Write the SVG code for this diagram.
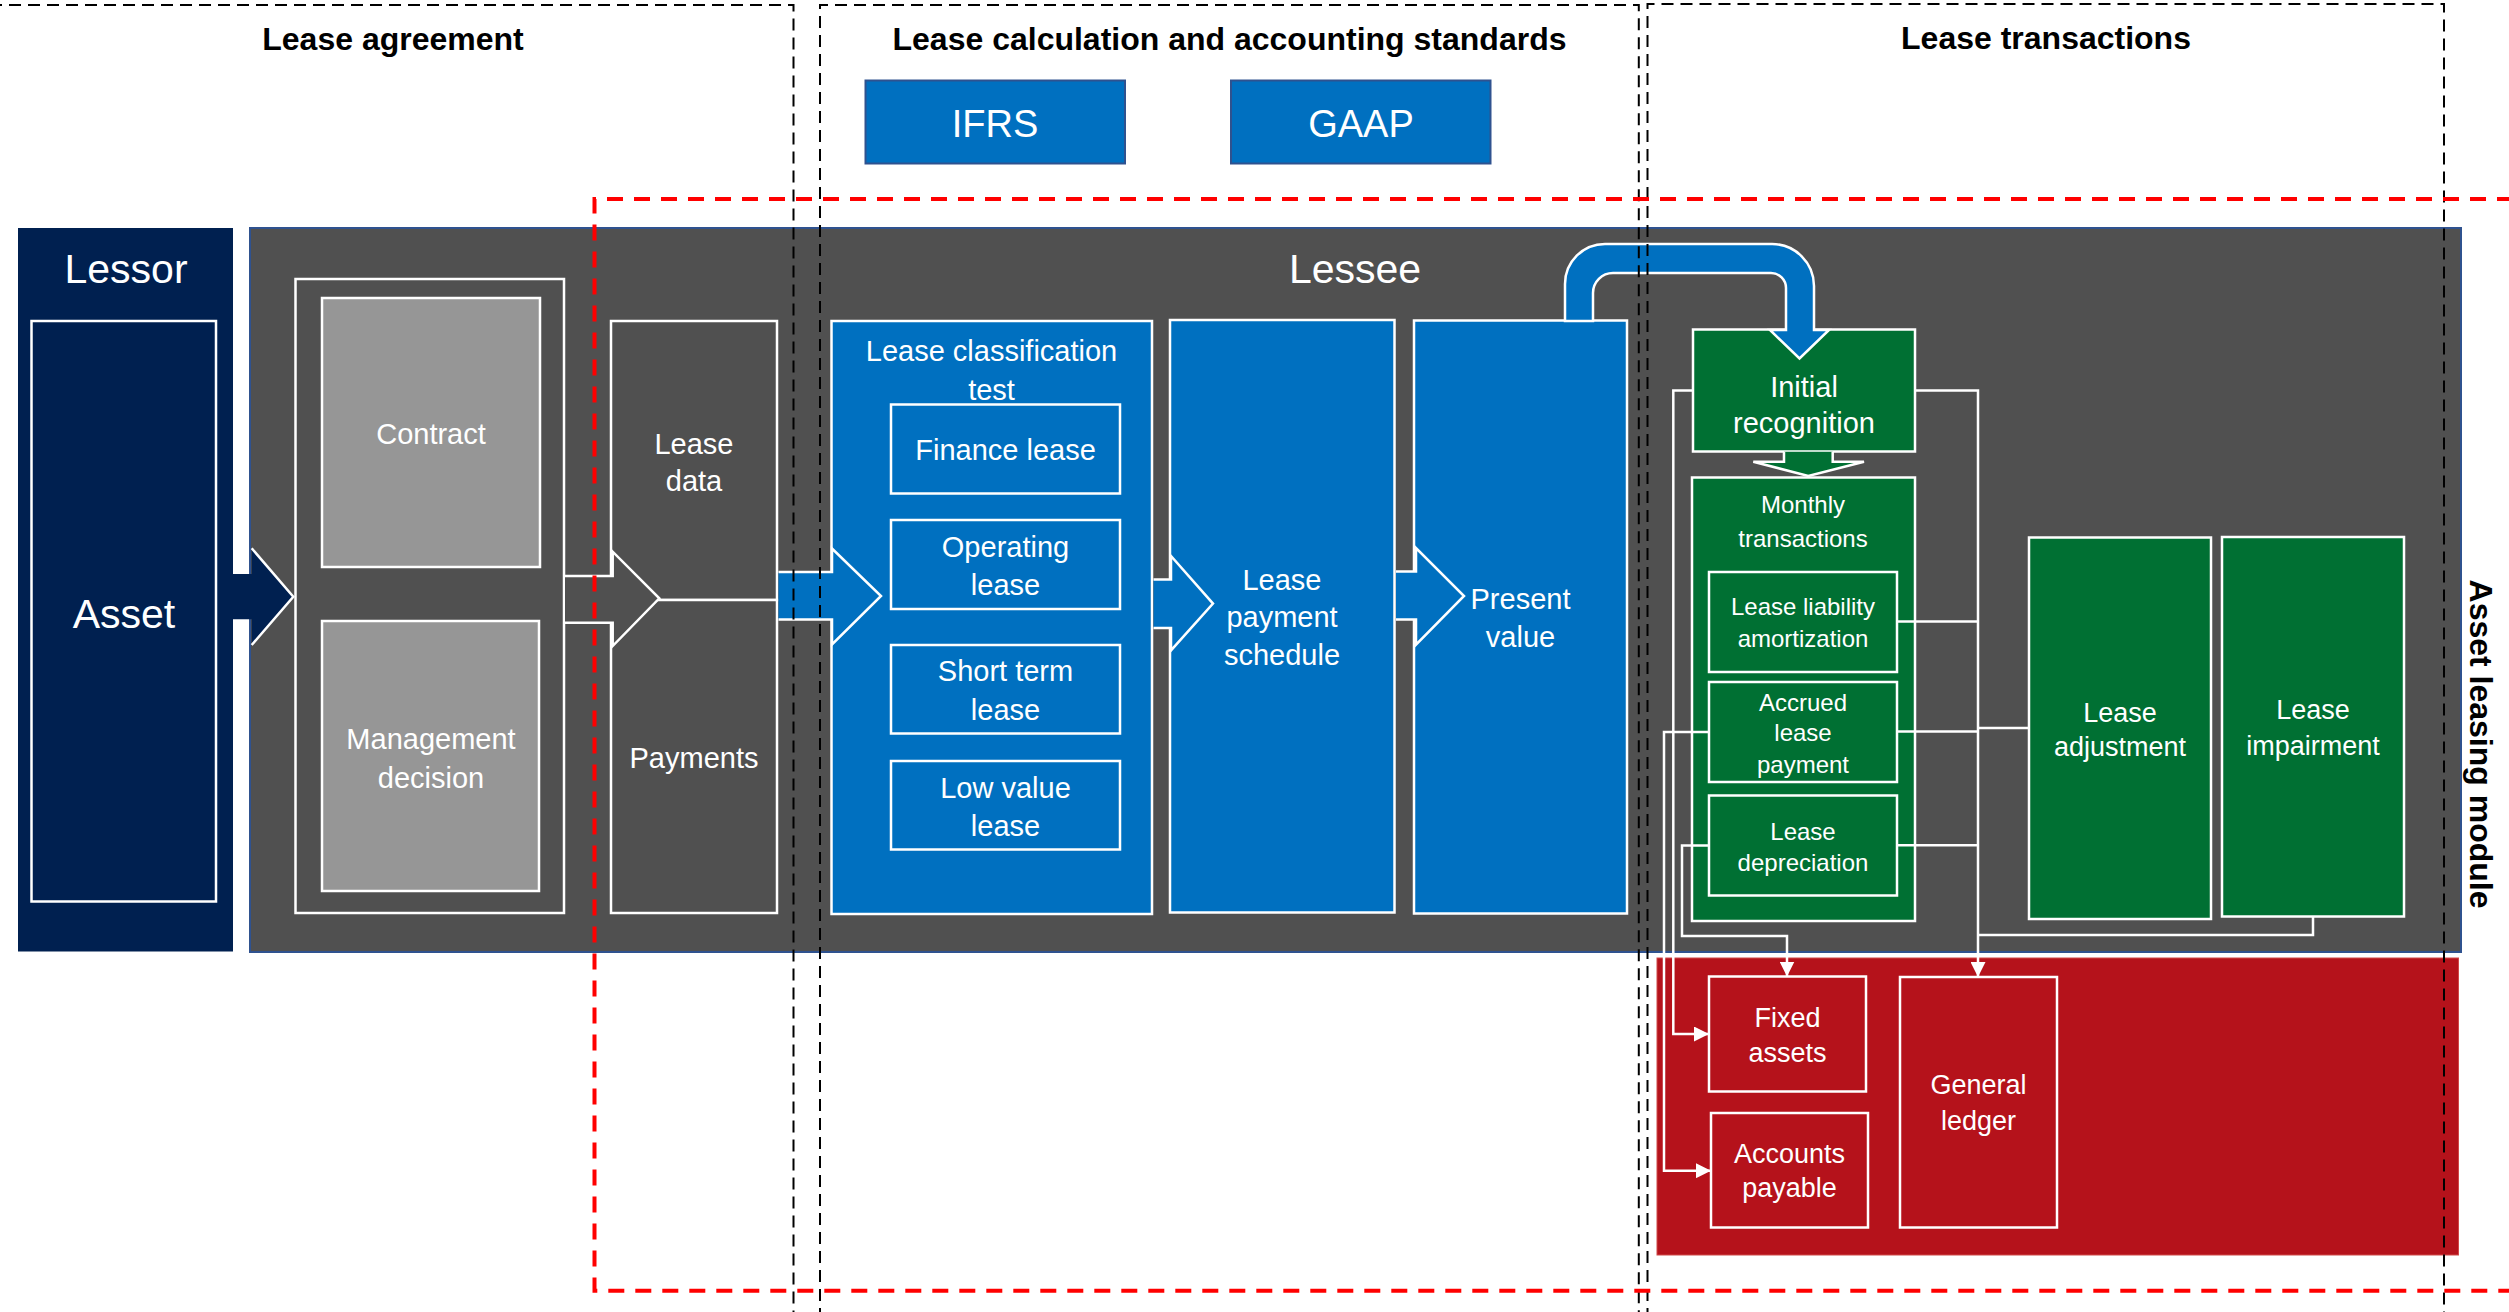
<svg xmlns="http://www.w3.org/2000/svg" width="2509" height="1312" viewBox="0 0 2509 1312">
  <defs>
    <style>
      .t { font-family: "Liberation Sans", Arial, sans-serif; fill: #ffffff; text-anchor: middle; }
      .h { font-family: "Liberation Sans", Arial, sans-serif; font-weight: bold; font-size: 32px; fill: #000000; text-anchor: middle; }
      .big { font-size: 41px; }
      .b29 { font-size: 29px; }
      .b27 { font-size: 27px; }
      .b24 { font-size: 24px; }
      .wb { stroke: #ffffff; stroke-width: 2.5; }
      .blue { fill: #0070C0; }
      .green { fill: #007033; }
      .gray { fill: #505050; }
      .lgray { fill: #969696; }
      .red { fill: #B5121B; }
      .navy { fill: #002050; }
      .conn { fill: none; stroke: #ffffff; stroke-width: 2.5; }
      .edge { fill: none; stroke: #ffffff; stroke-width: 2.5; stroke-linejoin: miter; }
      .dashk { fill: none; stroke: #000000; stroke-width: 2; stroke-dasharray: 12 7; }
      .dashr { fill: none; stroke: #FF0000; stroke-width: 4; stroke-dasharray: 16 11; }
    </style>
    <marker id="ah" viewBox="0 0 10 10" refX="10" refY="5" markerUnits="userSpaceOnUse" markerWidth="15" markerHeight="15" orient="auto">
      <path d="M0,0 L10,5 L0,10 z" fill="#ffffff"/>
    </marker>
  </defs>

  <rect x="0" y="0" width="2509" height="1312" fill="#ffffff"/>

  <!-- Section headings -->
  <g id="heading-lease-agreement"><text class="h" x="393" y="50">Lease agreement</text></g>
  <g id="heading-lease-calculation"><text class="h" x="1229.5" y="50">Lease calculation and accounting standards</text></g>
  <g id="heading-lease-transactions"><text class="h" x="2046" y="49">Lease transactions</text></g>

  <!-- Standards -->
  <g id="ifrs">
    <rect x="865.5" y="80.5" width="259.5" height="83" class="blue" stroke="#2F528F" stroke-width="2"/>
    <text class="t" x="995" y="137" font-size="38">IFRS</text>
  </g>
  <g id="gaap">
    <rect x="1231" y="80.5" width="259.5" height="83" class="blue" stroke="#2F528F" stroke-width="2"/>
    <text class="t" x="1361" y="137" font-size="38">GAAP</text>
  </g>

  <!-- Lessor -->
  <g id="lessor">
    <rect x="18" y="228" width="215" height="723.5" class="navy"/>
    <text class="t big" x="126" y="283">Lessor</text>
  </g>
  <g id="asset">
    <rect x="31.5" y="321" width="184.5" height="580.5" class="navy wb"/>
    <text class="t big" x="124" y="628">Asset</text>
  </g>

  <!-- Lessee container -->
  <g id="lessee">
    <rect x="250" y="228" width="2211" height="724" class="gray" stroke="#2F528F" stroke-width="2"/>
    <text class="t big" x="1355" y="283">Lessee</text>
  </g>

  <!-- External systems container -->
  <g id="external-systems">
    <rect x="1657" y="958" width="801.5" height="297" class="red" stroke="#D04848" stroke-width="1"/>
  </g>

  <!-- Lease agreement inputs -->
  <g id="agreement-group">
    <rect x="295.5" y="279" width="268.5" height="634" fill="none" class="wb"/>
  </g>
  <g id="contract">
    <rect x="322" y="298" width="218" height="269" class="lgray wb"/>
    <text class="t b29" x="431" y="444">Contract</text>
  </g>
  <g id="management-decision">
    <rect x="322" y="621" width="217" height="270" class="lgray wb"/>
    <text class="t b29" x="431" y="748.5">Management</text>
    <text class="t b29" x="431" y="788">decision</text>
  </g>
  <g id="lease-data">
    <rect x="611" y="321" width="166" height="279" class="gray wb"/>
    <text class="t b29" x="694" y="453.6">Lease</text>
    <text class="t b29" x="694" y="491">data</text>
  </g>
  <g id="payments">
    <rect x="611" y="600" width="166" height="313" class="gray wb"/>
    <text class="t b29" x="694" y="768">Payments</text>
  </g>

  <!-- Lease calculation -->
  <g id="lease-classification-test">
    <rect x="831.5" y="321" width="320.5" height="593" class="blue wb"/>
    <text class="t b29" x="991.5" y="361">Lease classification</text>
    <text class="t b29" x="991.5" y="399.5">test</text>
  </g>
  <g id="finance-lease">
    <rect x="891" y="404.5" width="229" height="89" class="blue wb"/>
    <text class="t b29" x="1005.5" y="460">Finance lease</text>
  </g>
  <g id="operating-lease">
    <rect x="891" y="520" width="229" height="89" class="blue wb"/>
    <text class="t b29" x="1005.5" y="557">Operating</text>
    <text class="t b29" x="1005.5" y="595">lease</text>
  </g>
  <g id="short-term-lease">
    <rect x="891" y="645" width="229" height="88.5" class="blue wb"/>
    <text class="t b29" x="1005.5" y="681">Short term</text>
    <text class="t b29" x="1005.5" y="720">lease</text>
  </g>
  <g id="low-value-lease">
    <rect x="891" y="761" width="229" height="88.5" class="blue wb"/>
    <text class="t b29" x="1005.5" y="798">Low value</text>
    <text class="t b29" x="1005.5" y="836">lease</text>
  </g>
  <g id="lease-payment-schedule">
    <rect x="1170" y="320" width="224.5" height="592.5" class="blue wb"/>
    <text class="t b29" x="1282" y="590">Lease</text>
    <text class="t b29" x="1282" y="627">payment</text>
    <text class="t b29" x="1282" y="665">schedule</text>
  </g>
  <g id="present-value">
    <rect x="1414" y="320.5" width="213" height="593" class="blue wb"/>
    <text class="t b29" x="1520.5" y="609">Present</text>
    <text class="t b29" x="1520.5" y="647">value</text>
  </g>

  <!-- Lease transactions -->
  <g id="initial-recognition">
    <rect x="1693" y="329.5" width="222" height="122" class="green wb"/>
    <text class="t b29" x="1804" y="397">Initial</text>
    <text class="t b29" x="1804" y="433">recognition</text>
  </g>
  <g id="monthly-transactions">
    <rect x="1692" y="477.5" width="223" height="443.5" class="green wb"/>
    <text class="t b24" x="1803" y="513">Monthly</text>
    <text class="t b24" x="1803" y="547">transactions</text>
  </g>
  <g id="lease-liability-amortization">
    <rect x="1709" y="572" width="188" height="100" class="green wb"/>
    <text class="t b24" x="1803" y="615">Lease liability</text>
    <text class="t b24" x="1803" y="646.6">amortization</text>
  </g>
  <g id="accrued-lease-payment">
    <rect x="1709" y="682" width="188" height="100" class="green wb"/>
    <text class="t b24" x="1803" y="710.5">Accrued</text>
    <text class="t b24" x="1803" y="741">lease</text>
    <text class="t b24" x="1803" y="772.6">payment</text>
  </g>
  <g id="lease-depreciation">
    <rect x="1709" y="795.5" width="188" height="100" class="green wb"/>
    <text class="t b24" x="1803" y="839.5">Lease</text>
    <text class="t b24" x="1803" y="870.5">depreciation</text>
  </g>
  <g id="lease-adjustment">
    <rect x="2029" y="537.5" width="182" height="381.5" class="green wb"/>
    <text class="t b27" x="2120" y="721.7">Lease</text>
    <text class="t b27" x="2120" y="755.6">adjustment</text>
  </g>
  <g id="lease-impairment">
    <rect x="2222" y="537" width="182" height="379.5" class="green wb"/>
    <text class="t b27" x="2313" y="719">Lease</text>
    <text class="t b27" x="2313" y="754.7">impairment</text>
  </g>

  <!-- External systems -->
  <g id="fixed-assets">
    <rect x="1709" y="976.5" width="157" height="115" class="red wb"/>
    <text class="t b27" x="1787.5" y="1026.7">Fixed</text>
    <text class="t b27" x="1787.5" y="1061.7">assets</text>
  </g>
  <g id="accounts-payable">
    <rect x="1711" y="1113" width="157" height="114.5" class="red wb"/>
    <text class="t b27" x="1789.5" y="1163">Accounts</text>
    <text class="t b27" x="1789.5" y="1196.7">payable</text>
  </g>
  <g id="general-ledger">
    <rect x="1900" y="977" width="157" height="250.5" class="red wb"/>
    <text class="t b27" x="1978.5" y="1094">General</text>
    <text class="t b27" x="1978.5" y="1130">ledger</text>
  </g>

  <!-- Connectors -->
  <g id="connectors">
    <!-- Lessor -> Lessee -->
    <polygon points="233,574 251.7,574 251.7,548.3 293.3,596.7 251.7,645 251.7,619.3 233,619.3" class="navy"/>
    <polyline points="251.7,548.3 293.3,596.7 251.7,645" class="edge"/>
    <!-- agreement -> lease data / payments -->
    <polygon points="565,576 612.7,576 612.7,551.7 659.3,598.3 612.7,646 612.7,622.7 565,622.7" class="gray"/>
    <polyline points="565,576 612.7,576 612.7,551.7 659.3,598.3 612.7,646 612.7,622.7 565,622.7" class="edge"/>
    <!-- lease data -> classification -->
    <polygon points="778.5,572 832,572 832,548.5 881,596 832,644.5 832,619.5 778.5,619.5" class="blue"/>
    <polyline points="778.5,572 832,572 832,548.5 881,596 832,644.5 832,619.5 778.5,619.5" class="edge"/>
    <!-- classification -> schedule -->
    <polygon points="1153.5,579.5 1171,579.5 1171,556 1213,603.6 1171,650.4 1171,628 1153.5,628" class="blue"/>
    <polyline points="1153.5,579.5 1171,579.5 1171,556 1213,603.6 1171,650.4 1171,628 1153.5,628" class="edge"/>
    <!-- schedule -> present value -->
    <polygon points="1396,571.4 1416,571.4 1416,548 1464,596 1416,644.6 1416,619.6 1396,619.6" class="blue"/>
    <polyline points="1396,571.4 1416,571.4 1416,548 1464,596 1416,644.6 1416,619.6 1396,619.6" class="edge"/>
    <!-- present value -> initial recognition (U-turn) -->
    <path d="M1565,321 L1565,284 A40,40 0 0 1 1605,244 L1772,244 A42,42 0 0 1 1814,286 L1814,330 L1829,330 L1799.5,358.5 L1770,330 L1786,330 L1786,288 A15,15 0 0 0 1771,273 L1613,273 A20,20 0 0 0 1593,293 L1593,321 Z" class="blue" stroke="#ffffff" stroke-width="2.5"/>
    <!-- initial recognition -> monthly transactions -->
    <polygon points="1784,451.7 1784,461.7 1753.3,461.7 1808.3,476 1864,461.7 1832.7,461.7 1832.7,451.7" class="green"/>
    <polyline points="1784,451.7 1784,461.7 1753.3,461.7 1808.3,476 1864,461.7 1832.7,461.7 1832.7,451.7" class="edge"/>

    <!-- posting lines -->
    <path d="M1693,390.6 H1673.3 V1034 H1709" class="conn" marker-end="url(#ah)"/>
    <path d="M1709,732 H1664 V1170.7 H1711" class="conn" marker-end="url(#ah)"/>
    <path d="M1709,845.5 H1682 V936 H1787 V976.5" class="conn" marker-end="url(#ah)"/>
    <path d="M1915,390.6 H1978 V977" class="conn" marker-end="url(#ah)"/>
    <path d="M1897,621.4 H1978" class="conn"/>
    <path d="M1897,731.4 H1978" class="conn"/>
    <path d="M1978,728 H2029" class="conn"/>
    <path d="M1897,845.3 H1978" class="conn"/>
    <path d="M2313,916.6 V935 H1978" class="conn"/>
  </g>

  <!-- Vertical label -->
  <g id="asset-leasing-module">
    <text class="h" transform="translate(2470,744) rotate(90)" x="0" y="0">Asset leasing module</text>
  </g>

  <!-- Section boundaries -->
  <g id="section-boundaries">
    <path d="M-10,5 H793.5 V1320" class="dashk"/>
    <path d="M820,1320 V5 H1638.8 V1320" class="dashk"/>
    <path d="M1647.5,1320 V4 H2444 V1320" class="dashk"/>
    <path d="M2540,199 H594.5 V1290.7 H2540" class="dashr"/>
  </g>
</svg>
